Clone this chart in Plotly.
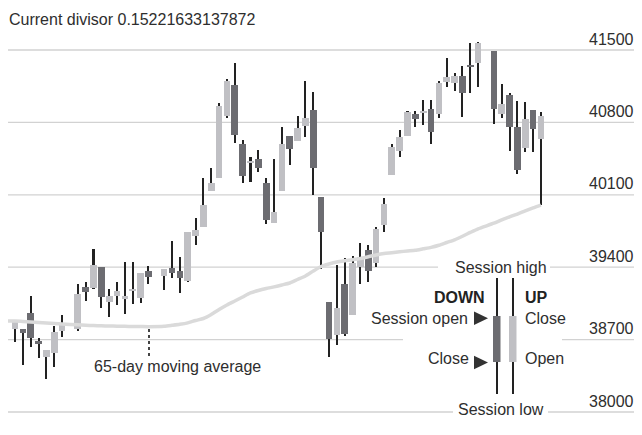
import numpy as np
import plotly.graph_objects as go

# ---------------- data ----------------
dates = [
    "2024-06-10", "2024-06-11", "2024-06-12", "2024-06-13", "2024-06-14", "2024-06-17", "2024-06-18",
    "2024-06-20", "2024-06-21", "2024-06-24", "2024-06-25", "2024-06-26", "2024-06-27", "2024-06-28",
    "2024-07-01", "2024-07-02", "2024-07-03", "2024-07-05", "2024-07-08", "2024-07-09", "2024-07-10",
    "2024-07-11", "2024-07-12", "2024-07-15", "2024-07-16", "2024-07-17", "2024-07-18", "2024-07-19",
    "2024-07-22", "2024-07-23", "2024-07-24", "2024-07-25", "2024-07-26", "2024-07-29", "2024-07-30",
    "2024-07-31", "2024-08-01", "2024-08-02", "2024-08-05", "2024-08-06", "2024-08-07", "2024-08-08",
    "2024-08-09", "2024-08-12", "2024-08-13", "2024-08-14", "2024-08-15", "2024-08-16", "2024-08-19",
    "2024-08-20", "2024-08-21", "2024-08-22", "2024-08-23", "2024-08-26", "2024-08-27", "2024-08-28",
    "2024-08-29", "2024-08-30", "2024-09-03", "2024-09-04", "2024-09-05", "2024-09-06", "2024-09-09",
    "2024-09-10", "2024-09-11",
]
opens = [38802, 38802, 38954, 38686, 38535, 38573, 38783, 38800, 39211, 39196, 39405, 39066, 39122,
         39095, 39173, 39105, 39363, 39318, 39389, 39363, 39269, 39702, 39786, 40140, 40265, 40862,
         41162, 40591, 40410, 40446, 40211, 39830, 40140, 40669, 40623, 40765, 40920, 40076, 39064,
         38744, 39238, 38938, 39405, 39566, 39444, 39808, 40291, 40526, 40669, 40881, 40891, 40930,
         40881, 41194, 41184, 41249, 41350, 41371, 41490, 40881, 41065, 40753, 40550, 40920, 40640]
highs = [38890, 38802, 39124, 38718, 38599, 38834, 38938, 39235, 39260, 39573, 39405, 39186, 39254,
         39447, 39447, 39341, 39414, 39383, 39656, 39496, 39743, 39879, 40260, 40356, 40991, 41220,
         41371, 40630, 40468, 40533, 40260, 40443, 40753, 40669, 40865, 41200, 41097, 40076, 39064,
         39421, 39489, 39508, 39631, 39615, 39792, 40072, 40588, 40727, 40913, 40913, 41017, 41017,
         41203, 41420, 41275, 41345, 41571, 41580, 41490, 41168, 41081, 41007, 41000, 40920, 40901]
lows = [38677, 38454, 38631, 38519, 38319, 38438, 38728, 38786, 39073, 39186, 39003, 38916, 39035,
        38948, 39044, 39051, 39238, 39180, 39293, 39153, 39260, 39615, 39786, 40140, 40265, 40845,
        40598, 40211, 40227, 40323, 39815, 39824, 40140, 40388, 40623, 40656, 40098, 39386, 38532,
        38648, 38735, 38938, 39238, 39260, 39399, 39743, 40291, 40463, 40669, 40753, 40775, 40591,
        40840, 41145, 41107, 40849, 41087, 41145, 40785, 40840, 40526, 40301, 40511, 40511, 40001]
closes = [38883, 38761, 38718, 38655, 38599, 38776, 38841, 39141, 39157, 39421, 39115, 39124, 39170,
          39119, 39186, 39341, 39308, 39383, 39347, 39298, 39740, 39760, 40001, 40211, 40959, 41200,
          40678, 40282, 40417, 40362, 39856, 39931, 40591, 40543, 40743, 40840, 40356, 39743, 38706,
          39010, 38759, 39445, 39502, 39366, 39766, 40011, 40565, 40656, 40903, 40833, 40896, 40710,
          41184, 41236, 41249, 41087, 41340, 41565, 40930, 40975, 40753, 40340, 40833, 40733, 40862]

ma_dates = ["2024-06-07"] + dates
ma_values = [38880, 38880, 38875, 38870, 38865, 38860, 38856, 38851, 38843, 38839, 38836, 38834,
             38831, 38830, 38828, 38827, 38826, 38825, 38829, 38838, 38848, 38862, 38885, 38904,
             38943, 38991, 39035, 39073, 39112, 39151, 39175, 39194, 39210, 39228, 39247, 39281,
             39315, 39363, 39407, 39431, 39450, 39462, 39472, 39484, 39501, 39518, 39532, 39540,
             39549, 39557, 39564, 39578, 39592, 39612, 39639, 39665, 39699, 39736, 39771, 39825,
             39858, 39887, 39914, 39945, 39974, 40001]

tick_values = [38000, 38700, 39400, 40100, 40800, 41500]
tick_labels = ["38000", "38700", "39400", "40100", "40800", "41500"]

title_text = "Current divisor 0.15221633137872"
ma_label = "65-day moving average"

# ---------------- layout constants ----------------
W, H = 642, 435          # window
OFF = 8                  # page body margin in the browser
FW, FH = W - OFF, H - OFF  # figure size
FONT = "Liberation Sans, Arial, sans-serif"
TXT = "#2e2e2e"
LIGHT = "#c0c0c4"
DARK = "#6c6c71"
WICK = "#222222"
GRID = "#d2d2d2"

def px(x):
    return (x - OFF) / FW

def py(y):
    return 1 - (y - OFF) / FH

# trading-day slots (weekdays; market holidays stay as gaps)
slots = np.busday_count(dates[0], dates).astype(float)
ma_slots = np.busday_count(dates[0], ma_dates).astype(float)

o = np.array(opens, float)
c = np.array(closes, float)
hi = np.array(highs, float)
lo = np.array(lows, float)
up = c >= o
body_base = np.minimum(o, c)
body_h = np.maximum(np.abs(c - o), 14)

fig = go.Figure()

fig.add_trace(go.Scatter(x=ma_slots, y=ma_values, mode="lines",
                         line=dict(color="#dadada", width=3.5, shape="spline", smoothing=0.6),
                         hoverinfo="skip", showlegend=False))

fig.add_trace(go.Bar(x=slots, y=hi - lo, base=lo, width=0.26,
                     marker=dict(color=WICK, line=dict(width=0)),
                     hoverinfo="skip", showlegend=False))
fig.add_trace(go.Bar(x=slots[up], y=body_h[up], base=body_base[up], width=0.85,
                     marker=dict(color=LIGHT, line=dict(width=0)),
                     hoverinfo="skip", showlegend=False))
fig.add_trace(go.Bar(x=slots[~up], y=body_h[~up], base=body_base[~up], width=0.85,
                     marker=dict(color=DARK, line=dict(width=0)),
                     hoverinfo="skip", showlegend=False))

# ---------------- gridlines (broken where the key sits) ----------------
gaps = {38000: (453, 548), 38700: (403, 562), 39400: (438, 550)}
shapes = []
for v in tick_values:
    segs = [(8, 637)]
    if v in gaps:
        a, b = gaps[v]
        segs = [(8, a), (b, 637)]
    for a, b in segs:
        shapes.append(dict(type="line", xref="paper", yref="y", x0=px(a), x1=px(b), y0=v, y1=v,
                           line=dict(color=GRID, width=1.3), layer="below"))

# moving-average pointer (dotted)
shapes.append(dict(type="line", xref="paper", yref="paper", x0=px(149), x1=px(149),
                   y0=py(329), y1=py(358), line=dict(color="#444444", width=2, dash="dot")))

# key candles
for xw, xb0, xb1, col in [(497, 493, 500.5, DARK), (513, 509, 516.5, LIGHT)]:
    shapes.append(dict(type="line", xref="paper", yref="paper", x0=px(xw), x1=px(xw),
                       y0=py(278), y1=py(394), line=dict(color=WICK, width=2)))
    shapes.append(dict(type="rect", xref="paper", yref="paper", x0=px(xb0), x1=px(xb1),
                       y0=py(316), y1=py(362), fillcolor=col, line=dict(width=0)))

# key pointer triangles
for yc in (318.3, 362.5):
    pts = [(474, yc - 6.8), (488, yc), (474, yc + 6.8)]
    path = "M " + " L ".join(f"{px(a):.5f},{py(b):.5f}" for a, b in pts) + " Z"
    shapes.append(dict(type="path", xref="paper", yref="paper", path=path,
                       fillcolor="#333333", line=dict(width=0)))

annotations = []
def note(text, x, y, xanchor="center", size=16, bold=False, color=TXT):
    if bold:
        text = "<b>" + text + "</b>"
    annotations.append(dict(text=text, xref="paper", yref="paper", x=px(x), y=py(y),
                            xanchor=xanchor, yanchor="middle", showarrow=False,
                            font=dict(family=FONT, size=size, color=color)))

note(title_text, 7, 19, "left")
for v, lab in zip(tick_values, tick_labels):
    annotations.append(dict(text=lab, xref="paper", yref="y", x=px(636), y=v, yshift=11,
                            xanchor="right", yanchor="middle", showarrow=False,
                            font=dict(family=FONT, size=16, color=TXT)))
note(ma_label, 92, 366, "left")
note("Session high", 501, 267)
note("Session low", 501, 409)
note("DOWN", 487, 297, "right", bold=True, color="#222222")
note("UP", 523, 297, "left", bold=True, color="#222222")
note("Session open", 470, 318, "right")
note("Close", 471, 358, "right")
note("Close", 523, 318, "left")
note("Open", 523, 358, "left")

# axis ranges chosen so the plot area fills the whole figure
step = 7.85          # px per trading-day slot
x_first = 15 - OFF   # figure px of first candle
ppu = 362 / 3500     # px per index point
y_top, y_bot = 50 - OFF, 412 - OFF  # figure px of 41500 and 38000 lines

fig.update_layout(
    width=FW, height=FH, margin=dict(l=0, r=0, t=0, b=0),
    paper_bgcolor="white", plot_bgcolor="white",
    barmode="overlay", bargap=0, showlegend=False,
    xaxis=dict(range=[-x_first / step, (FW - x_first) / step], visible=False, fixedrange=True),
    yaxis=dict(range=[38000 - (FH - y_bot) / ppu, 41500 + y_top / ppu], visible=False, fixedrange=True),
    shapes=shapes, annotations=annotations,
)

fig.write_html("out.html")
